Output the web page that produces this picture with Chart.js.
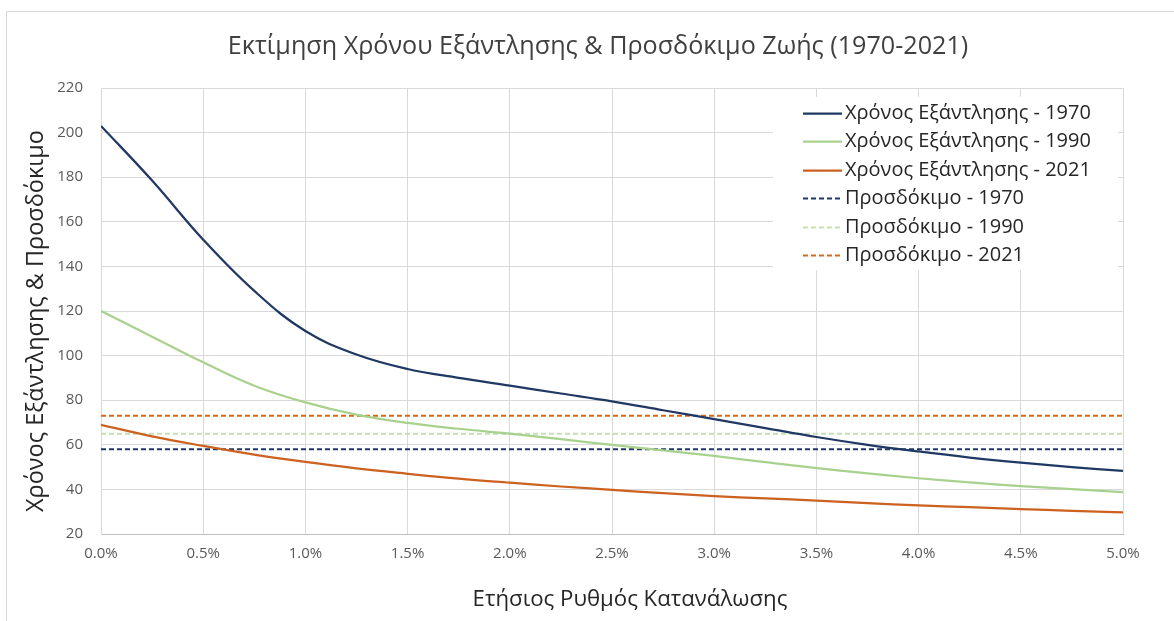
<!DOCTYPE html>
<html>
<head>
<meta charset="utf-8">
<script src="https://cdn.jsdelivr.net/npm/chart.js@4.4.0/dist/chart.umd.min.js"></script>
<style>
  html, body { margin: 0; padding: 0; background: #fff; overflow: hidden; }
  #wrap { position: relative; width: 1174px; height: 621px; }
  #frame { position: absolute; left: 6px; top: 11px; width: 1300px; height: 800px;
           border-left: 1px solid #d9d9d9; border-top: 1px solid #d9d9d9; pointer-events: none; }
  canvas { position: absolute; left: 0; top: 0; }
</style>
</head>
<body>
<div id="wrap">
  <canvas id="chart" width="1174" height="621"></canvas>
  <div id="frame"></div>
</div>
<script>
// --- Δεδομένα (διαβασμένα από το γράφημα) ---
const TITLE = 'Εκτίμηση Χρόνου Εξάντλησης & Προσδόκιμο Ζωής (1970-2021)';
const X_TITLE = 'Ετήσιος Ρυθμός Κατανάλωσης';
const Y_TITLE = 'Χρόνος Εξάντλησης & Προσδόκιμο';

const years = ['1970', '1990', '2021'];

// ετήσιος ρυθμός κατανάλωσης (%)
const rates = [0, 0.25, 0.5, 0.75, 1.0, 1.25, 1.5, 1.75, 2.0, 2.25, 2.5,
               2.75, 3.0, 3.25, 3.5, 3.75, 4.0, 4.25, 4.5, 4.75, 5.0];

// χρόνος εξάντλησης (έτη)
const depletion1970 = [203, 178.5, 152, 129, 111, 100.5, 94, 90, 86.5, 83, 79.5,
                       75.5, 71.5, 67.5, 63.5, 60, 57, 54.3, 52, 50, 48.3];
const depletion1990 = [120, 108.5, 97, 86.5, 79, 73.5, 69.8, 67.2, 65, 62.5, 60,
                       57.5, 55, 52.2, 49.5, 47.2, 45, 43.1, 41.5, 40.1, 38.8];
const depletion2021 = [69, 63.8, 59.5, 55.6, 52.3, 49.4, 47, 44.8, 43, 41.3, 39.8,
                       38.3, 37, 36, 35, 33.8, 32.8, 32, 31.2, 30.4, 29.7];

// προσδόκιμο ζωής (οριζόντιες γραμμές)
const expectancy = [58, 65, 73];

const yTicks = { min: 20, max: 220, step: 20 };
const xTicks = { min: 0, max: 5, step: 0.5 };

// --- Στυλ ---
const FONT = "'Open Sans', 'Noto Sans', sans-serif";
const colorsSolid = ['#203864', '#A9D18E', '#CC6120'];
const colorsDash = ['#203864', '#C5E0B4', '#D06A22'];

const measureCtx = document.createElement('canvas').getContext('2d');
function fitSize(text, width) {
  measureCtx.font = `100px ${FONT}`;
  return 100 * width / measureCtx.measureText(text).width;
}
const titleSize = fitSize(TITLE, 741);
const xTitleSize = fitSize(X_TITLE, 315);
const yTitleSize = fitSize(Y_TITLE, 382);
const legendSize = fitSize('Χρόνος Εξάντλησης - 1970', 246);
const tickSize = 15;

const toPoints = ys => rates.map((x, i) => ({ x, y: ys[i] }));
const flat = v => [{ x: xTicks.min, y: v }, { x: xTicks.max, y: v }];

const datasets = [];
[depletion1970, depletion1990, depletion2021].forEach((ys, i) => {
  datasets.push({
    label: `Χρόνος Εξάντλησης - ${years[i]}`,
    data: toPoints(ys),
    borderColor: colorsSolid[i],
    borderWidth: 2.25,
    pointRadius: 0,
    tension: 0.4
  });
});
expectancy.forEach((v, i) => {
  datasets.push({
    label: `Προσδόκιμο - ${years[i]}`,
    data: flat(v),
    borderColor: colorsDash[i],
    borderWidth: 2,
    borderDash: [5, 3],
    pointRadius: 0
  });
});

// τίτλοι γραφήματος και αξόνων
const textPlugin = {
  id: 'texts',
  afterDraw(chart) {
    const { ctx } = chart;
    ctx.save();
    ctx.textAlign = 'center';
    ctx.textBaseline = 'middle';
    ctx.fillStyle = '#404040';
    ctx.font = `${titleSize}px ${FONT}`;
    ctx.fillText(TITLE, 598, 47);
    ctx.fillStyle = '#262626';
    ctx.font = `${xTitleSize}px ${FONT}`;
    ctx.fillText(X_TITLE, 630, 600);
    ctx.translate(36, 321);
    ctx.rotate(-Math.PI / 2);
    ctx.font = `${yTitleSize}px ${FONT}`;
    ctx.fillText(Y_TITLE, 0, 0);
    ctx.restore();
  }
};

// υπόμνημα μέσα στην περιοχή σχεδίασης
const legendPlugin = {
  id: 'innerLegend',
  afterDatasetsDraw(chart) {
    const { ctx, chartArea: a } = chart;
    const left = a.right - 350, top = a.top + 9;
    ctx.save();
    ctx.fillStyle = '#fff';
    ctx.fillRect(left, top, 345, 173);
    ctx.font = `${legendSize}px ${FONT}`;
    ctx.textBaseline = 'middle';
    chart.data.datasets.forEach((ds, i) => {
      const y = Math.round(a.top + 25 + i * 28.4) + 0.5;
      ctx.strokeStyle = ds.borderColor;
      ctx.lineWidth = ds.borderWidth;
      ctx.setLineDash(ds.borderDash || []);
      ctx.beginPath();
      ctx.moveTo(left + 30, y);
      ctx.lineTo(left + 69, y);
      ctx.stroke();
      ctx.fillStyle = '#262626';
      ctx.fillText(ds.label, left + 72, y);
    });
    ctx.restore();
  }
};

new Chart(document.getElementById('chart'), {
  type: 'line',
  data: { datasets },
  options: {
    responsive: false,
    animation: false,
    events: [],
    layout: { padding: { top: 88, right: 51, left: 0, bottom: 0 } },
    plugins: { legend: { display: false }, title: { display: false }, tooltip: { enabled: false } },
    scales: {
      x: {
        type: 'linear',
        min: xTicks.min, max: xTicks.max,
        offset: false,
        afterFit: s => { s.height = 87; },
        grid: { color: '#d9d9d9', lineWidth: 1, drawTicks: false },
        border: { color: '#bfbfbf', width: 1 },
        ticks: {
          stepSize: xTicks.step,
          padding: 11,
          color: '#595959',
          font: { family: FONT, size: tickSize },
          maxRotation: 0,
          callback: v => v.toFixed(1) + '%'
        }
      },
      y: {
        min: yTicks.min, max: yTicks.max,
        afterFit: s => { s.width = 101; },
        grid: { color: '#d9d9d9', lineWidth: 1, drawTicks: false },
        border: { color: '#d9d9d9', width: 1 },
        ticks: {
          stepSize: yTicks.step,
          padding: 18,
          color: '#595959',
          font: { family: FONT, size: tickSize }
        }
      }
    }
  },
  plugins: [legendPlugin, textPlugin]
});
</script>
</body>
</html>
